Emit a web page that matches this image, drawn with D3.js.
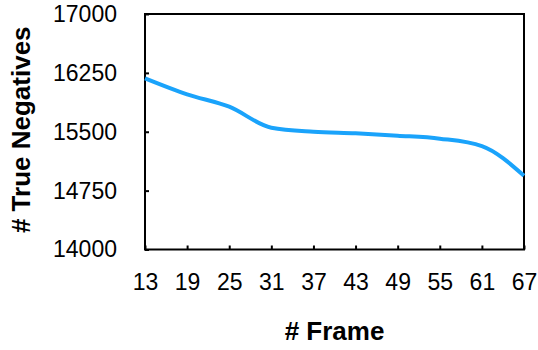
<!DOCTYPE html>
<html>
<head>
<meta charset="utf-8">
<script src="https://cdn.jsdelivr.net/npm/d3@7"></script>
<style>
  html, body { margin: 0; padding: 0; background: #fff; }
  svg { display: block; }
  text { font-family: "Liberation Sans", Arial, Helvetica, sans-serif; fill: #000; }
</style>
</head>
<body>
<script>
// Frame numbers sampled along the sequence
const frames = [13, 19, 25, 31, 37, 43, 49, 55, 61, 67];
// True-negative counts at each frame
const trueNegatives = [16181, 15977, 15819, 15552, 15501, 15480, 15450, 15412, 15318, 14940];
// Axis tick values
const xTicks = [13, 19, 25, 31, 37, 43, 49, 55, 61, 67];
const yTicks = [14000, 14750, 15500, 16250, 17000];

const W = 538, H = 350;
const margin = { left: 145, right: 14, top: 14, bottom: 100.5 };

const svg = d3.select("body").append("svg")
  .attr("width", W).attr("height", H);

const x = d3.scaleLinear().domain([13, 67]).range([margin.left, W - margin.right]);
const y = d3.scaleLinear().domain([14000, 17000]).range([H - margin.bottom, margin.top]);

// Box around the plot area
svg.append("rect")
  .attr("x", x(13)).attr("y", y(17000))
  .attr("width", x(67) - x(13)).attr("height", y(14000) - y(17000))
  .attr("fill", "none").attr("stroke", "#000").attr("stroke-width", 2);

// Bottom axis with inward ticks
const xAxis = svg.append("g")
  .attr("transform", `translate(0,${y(14000)})`)
  .call(d3.axisBottom(x).tickValues(xTicks).tickFormat(d3.format("d"))
    .tickSizeInner(-4).tickSizeOuter(0).tickPadding(24));
xAxis.select(".domain").remove();
xAxis.selectAll(".tick line").attr("stroke", "#000").attr("stroke-width", 2);
xAxis.selectAll("text").attr("font-size", 23).attr("font-family", "Liberation Sans, Arial, sans-serif");

// Left axis with inward ticks
const yAxis = svg.append("g")
  .attr("transform", `translate(${x(13)},0)`)
  .call(d3.axisLeft(y).tickValues(yTicks).tickFormat(d3.format("d"))
    .tickSizeInner(-4).tickSizeOuter(0).tickPadding(28));
yAxis.select(".domain").remove();
yAxis.selectAll(".tick line").attr("stroke", "#000").attr("stroke-width", 2);
yAxis.selectAll("text").attr("font-size", 23).attr("font-family", "Liberation Sans, Arial, sans-serif");

// Series line
const line = d3.line()
  .x((d, i) => x(frames[i]))
  .y(d => y(d))
  .curve(d3.curveMonotoneX);

svg.append("path")
  .datum(trueNegatives)
  .attr("d", line)
  .attr("fill", "none")
  .attr("stroke", "#1aa3fb")
  .attr("stroke-width", 4)
  .attr("stroke-linejoin", "round");

// Axis titles
svg.append("text")
  .attr("x", (x(13) + x(67)) / 2).attr("y", 340)
  .attr("text-anchor", "middle")
  .attr("font-size", 26).attr("font-weight", "bold")
  .text("# Frame");

svg.append("text")
  .attr("transform", `translate(30,${(y(14000) + y(17000)) / 2 - 2}) rotate(-90)`)
  .attr("text-anchor", "middle")
  .attr("font-size", 26).attr("font-weight", "bold")
  .text("# True Negatives");
</script>
</body>
</html>
